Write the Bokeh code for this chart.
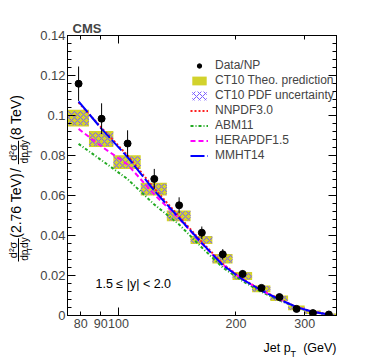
import numpy as np
from bokeh.plotting import figure
from bokeh.layouts import column, row
from bokeh.models import (Range1d, LinearAxis, LogAxis, FixedTicker, Label, Legend,
                          LegendItem, BoxAnnotation, CustomJSTickFormatter)
from bokeh.embed import file_html
from bokeh.resources import INLINE

# ---------------- data ----------------
bin_lo = [74, 84, 97, 114, 133, 153, 174, 196, 220, 245, 272, 300, 330]
bin_hi = [84, 97, 114, 133, 153, 174, 196, 220, 245, 272, 300, 330, 362]
pt = [79, 90.5, 105.5, 123.5, 143, 163.5, 185, 208, 232.5, 258.5, 286, 315, 346]
data = [0.1159, 0.0984, 0.0860, 0.0683, 0.0551, 0.0414, 0.0306, 0.0208, 0.0138, 0.0092, 0.0033, 0.0012, 0.0005]
data_err = [0.0086, 0.0077, 0.0066, 0.0050, 0.0040, 0.0031, 0.0026, 0.0018, 0.0014, 0.0011, 0.0008, 0.0005, 0.0003]
ct10 = [0.0987, 0.0882, 0.0767, 0.0632, 0.0498, 0.0378, 0.0284, 0.0197, 0.0133, 0.0086, 0.0038, 0.0016, 0.0005]
ct10_theo = [0.0042, 0.0040, 0.0034, 0.0032, 0.0027, 0.0020, 0.0024, 0.0020, 0.0017, 0.0014, 0.0012, 0.0009, 0.0005]
ct10_pdf = [0.0036, 0.0034, 0.0029, 0.0027, 0.0023, 0.0017, 0.0020, 0.0017, 0.0014, 0.0012, 0.0010, 0.0008, 0.0004]
nnpdf = [0.1065, 0.0938, 0.0800, 0.0635, 0.0495, 0.0368, 0.0258, 0.0183, 0.0127, 0.0082, 0.0043, 0.0019, 0.0006]
abm11 = [0.0858, 0.0776, 0.0682, 0.0555, 0.0455, 0.0340, 0.0240, 0.0172, 0.0118, 0.0076, 0.0040, 0.0017, 0.0005]
hera = [0.0933, 0.0845, 0.0755, 0.0605, 0.0485, 0.0360, 0.0254, 0.0180, 0.0125, 0.0080, 0.0042, 0.0018, 0.0005]
mmht = [0.1070, 0.0933, 0.0792, 0.0625, 0.0487, 0.0362, 0.0252, 0.0180, 0.0125, 0.0080, 0.0042, 0.0018, 0.0005]

x_ticks = [80, 90, 100, 200, 300]
y_ticks = [0, 0.02, 0.04, 0.06, 0.08, 0.1, 0.12, 0.14]

FONT = "Liberation Sans"
YELLOW = "#d2d22c"
PURPLE = "#7a5cff"

d = np.array(data); de = np.array(data_err)
c = np.array(ct10); ct = np.array(ct10_theo); cp = np.array(ct10_pdf)

# ---------------- main plot ----------------
p = figure(width=337, height=335, x_axis_type="log",
           x_range=Range1d(74, 362), y_range=Range1d(0, 0.14),
           output_backend="svg", toolbar_location=None,
           min_border_left=32, min_border_right=36, min_border_top=35, min_border_bottom=20)
p.grid.visible = False
p.outline_line_color = "black"
p.outline_line_width = 1
p.background_fill_color = "white"
p.border_fill_color = "white"
p.title.text = "CMS"
p.title.text_font = FONT
p.title.text_font_style = "bold"
p.title.text_font_size = "13px"
p.title.align = "left"
p.title.offset = 5
p.title.standoff = 0

r_theo = p.quad(left=bin_lo, right=bin_hi, bottom=c - ct, top=c + ct,
                fill_color=YELLOW, line_color=None)
r_pdf = p.quad(left=bin_lo, right=bin_hi, bottom=c - cp, top=c + cp,
               fill_alpha=0, line_color=None, hatch_pattern="diagonal_cross",
               hatch_color=PURPLE, hatch_scale=6, hatch_weight=1)

r_nn = p.line(pt, nnpdf, line_color="#ff2020", line_width=2, line_dash="2 2")
r_abm = p.line(pt, abm11, line_color="#22aa22", line_width=2, line_dash="3 2 1 2")
r_hera = p.line(pt, hera, line_color="#ff00ff", line_width=2, line_dash="5 3")
r_mmht = p.line(pt, mmht, line_color="#0000ff", line_width=2, line_dash="14 3")

p.segment(pt, d - de, pt, d + de, line_color="black", line_width=1)
r_data = p.scatter(pt, data, size=7, fill_color="black", line_color="black")

minor_y = [round(0.004 * i, 3) for i in range(36)]
yfmt = CustomJSTickFormatter(code="return String(parseFloat(tick.toFixed(2)));")
xfmt = CustomJSTickFormatter(code="return String(Math.round(tick));")
blank = CustomJSTickFormatter(code="return '';")

xa = p.xaxis[0]
xa.ticker = FixedTicker(ticks=x_ticks, minor_ticks=[100])
xa.formatter = xfmt
xa.major_tick_in = 4; xa.major_tick_out = 0
xa.minor_tick_in = 8; xa.minor_tick_out = 0
xa.major_label_text_font = FONT
xa.major_label_text_font_size = "12.5px"
xa.major_label_standoff = 3

ya = p.yaxis[0]
ya.ticker = FixedTicker(ticks=y_ticks, minor_ticks=minor_y)
ya.formatter = yfmt
ya.major_tick_in = 8; ya.major_tick_out = 0
ya.minor_tick_in = 4; ya.minor_tick_out = 0
ya.major_label_text_font = FONT
ya.major_label_text_font_size = "13px"
ya.major_label_standoff = 2

top = LogAxis(ticker=FixedTicker(ticks=x_ticks, minor_ticks=[100]), formatter=blank)
top.major_tick_in = 4; top.major_tick_out = 0
top.minor_tick_in = 8; top.minor_tick_out = 0
top.major_label_text_color = None
top.major_label_text_font_size = "1px"
top.major_label_standoff = 0
p.add_layout(top, "above")

right = LinearAxis(ticker=FixedTicker(ticks=y_ticks, minor_ticks=minor_y), formatter=blank)
right.major_tick_in = 8; right.major_tick_out = 0
right.minor_tick_in = 4; right.minor_tick_out = 0
right.major_label_text_color = None
right.major_label_text_font_size = "1px"
right.major_label_standoff = 0
p.add_layout(right, "right")

legend = Legend(items=[
    LegendItem(label="Data/NP", renderers=[r_data]),
    LegendItem(label="CT10 Theo. prediction", renderers=[r_theo]),
    LegendItem(label="CT10 PDF uncertainty", renderers=[r_pdf]),
    LegendItem(label="NNPDF3.0", renderers=[r_nn]),
    LegendItem(label="ABM11", renderers=[r_abm]),
    LegendItem(label="HERAPDF1.5", renderers=[r_hera]),
    LegendItem(label="MMHT14", renderers=[r_mmht]),
], location=(123, 153))
legend.background_fill_alpha = 0
legend.border_line_color = None
legend.padding = 0
legend.margin = 0
legend.spacing = 1
legend.label_height = 12
legend.glyph_height = 11
legend.glyph_width = 18
legend.label_standoff = 7
legend.label_text_font = FONT
legend.label_text_font_size = "12px"
p.add_layout(legend)

p.add_layout(Label(x=28, y=32, x_units="screen", y_units="screen",
                   text="1.5 \u2264 |y| < 2.0", text_font=FONT, text_font_size="12.5px",
                   text_baseline="middle", text_color="black"))


def strip(w, h):
    s = figure(width=w, height=h, x_range=Range1d(0, w), y_range=Range1d(0, h),
               output_backend="svg", toolbar_location=None,
               x_axis_location=None, y_axis_location=None,
               min_border=0, min_border_left=0, min_border_right=0,
               min_border_top=0, min_border_bottom=0)
    s.grid.visible = False
    s.outline_line_color = None
    s.background_fill_color = "white"
    s.border_fill_color = "white"
    return s


def lab(fig, text, x, y, size, align="left", baseline="middle", angle=0):
    fig.add_layout(Label(x=x, y=y, text=text, text_font=FONT, text_font_size=size,
                         text_align=align, text_baseline=baseline, angle=angle,
                         text_color="black"))

# ---------------- y axis title strip (window x 0..35, y 0..335) ----------------
LH = 335
left = strip(35, LH)
A = np.pi / 2

def frac(cy):
    lab(left, "d\u00b2\u03c3", 12.5, LH - cy, "11px", align="center", angle=A)
    lab(left, "dp", 24, LH - (cy + 13), "10px", angle=A)
    lab(left, "T", 28.5, LH - (cy + 1.9), "7px", angle=A)
    lab(left, "dy", 24, LH - (cy - 2.4), "10px", angle=A)
    left.add_layout(BoxAnnotation(left=17.5, right=18.5, bottom=LH - (cy + 14), top=LH - (cy - 14),
                                  fill_color="black", fill_alpha=1, line_color=None))

frac(256.5)
lab(left, "(2.76 TeV)", 15, LH - 242, "14px", angle=A)
lab(left, "/", 15, LH - 161, "14px", align="center", angle=A)
frac(140)
lab(left, "(8 TeV)", 15, LH - 125, "14px", angle=A)

# ---------------- x axis title strip (window y 335..358) ----------------
BH = 23
bottom = strip(372, BH)
lab(bottom, "Jet p", 263, 358 - 347, "12.5px", baseline="alphabetic")
lab(bottom, "T", 290, 358 - 353, "9px", baseline="alphabetic")
lab(bottom, "(GeV)", 336, 358 - 347, "12.5px", align="right", baseline="alphabetic")

layout = column(row(left, p), bottom)
open("out.html", "w").write(file_html(layout, INLINE))
